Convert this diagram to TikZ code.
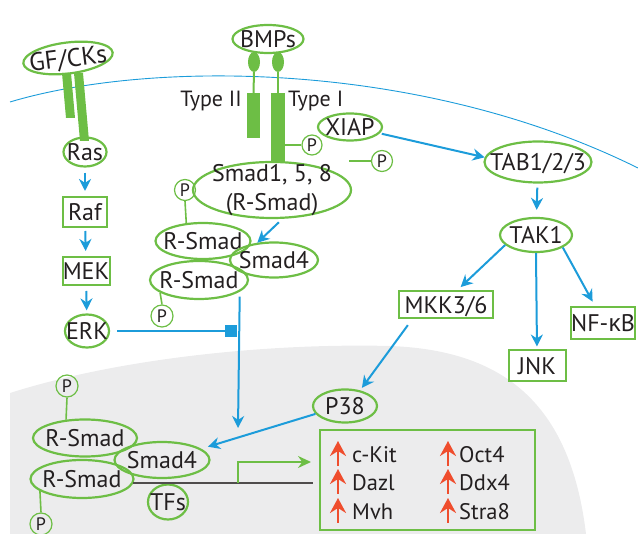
\documentclass[tikz,border=0pt]{standalone}
\usepackage{fontspec}
\setmainfont{PT Sans}
\newfontfamily\greekfont{Open Sans}
\usetikzlibrary{shapes.geometric,arrows.meta}
\definecolor{leaf}{RGB}{109,190,69}
\definecolor{sky}{RGB}{28,156,218}
\definecolor{nucleus}{RGB}{236,236,237}
\definecolor{upred}{RGB}{239,77,45}
\definecolor{ink}{RGB}{35,31,32}
\tikzset{
  molshape/.style={ellipse, draw=leaf, line width=2.2pt, inner sep=-40pt, text=ink,
    font=\fontsize{24}{28}\selectfont},
  mol/.style={molshape, text height=17pt, text depth=0pt},
  kinase/.style={rectangle, draw=leaf, line width=2pt, inner sep=0pt, text=ink,
    font=\fontsize{24}{28}\selectfont, text height=17pt, text depth=0pt},
  phos/.style={circle, draw=leaf, line width=1.2pt, inner sep=0pt, text=ink,
    font=\fontsize{18}{18}\selectfont, text height=12.5pt, text depth=0pt},
  plink/.style={leaf, line width=1.6pt},
  signal/.style={sky, line width=2pt, -{Stealth[length=12pt,width=12pt]}},
  receptor/.style={rectangle, fill=leaf, inner sep=0pt},
  typelabel/.style={inner sep=0pt, text=ink, font=\fontsize{22}{26}\selectfont},
  gene/.style={anchor=west, inner sep=0pt, text=ink, font=\fontsize{22.5}{26}\selectfont,
    text height=16pt, text depth=0pt},
  upreg/.style={upred, line width=2.2pt, -{Stealth[length=15pt,width=16pt,inset=5pt]}},
}
\begin{document}
\begin{tikzpicture}[x=1pt,y=-1pt]
\useasboundingbox (0,0) rectangle (638,534);

% nucleus
\fill[nucleus] (10,534) -- (10,393) .. controls (120,358) and (270,343) .. (390,346)
  .. controls (500,350) and (570,400) .. (586,534) -- cycle;

% plasma membrane
\draw[sky, line width=0.9pt] (10,102) .. controls (150,60) and (420,60) .. (638,168);

% growth factor / cytokine receptor
\node[mol, minimum width=90, minimum height=31, rotate=7, font=\fontsize{25.5}{28}\selectfont,
  text height=18pt] (gfck) at (68,58) {GF/CKs};
\fill[leaf] (62,73) -- (71,73) -- (75,118) -- (66,118) -- cycle;
\fill[leaf] (74,73) -- (83,73) -- (89,141) -- (80,141) -- cycle;

% ERK cascade
\node[mol, minimum width=43, minimum height=29] (ras) at (85,152) {Ras};
\node[kinase, minimum width=44, minimum height=30] (raf) at (85,212) {Raf};
\node[kinase, minimum width=47, minimum height=28] (mek) at (86,271) {MEK};
\node[mol, minimum width=44, minimum height=33] (erk) at (87,331) {ERK};
\draw[signal, shorten <=5pt, shorten >=5pt] (ras) -- (raf);
\draw[signal, shorten <=3pt, shorten >=5pt] (raf) -- (mek);
\draw[signal, shorten <=5pt, shorten >=3pt] (mek) -- (erk);

% BMP receptors
\node[mol, minimum width=71, minimum height=28] (bmp) at (268,39) {BMPs};
\node[ellipse, fill=leaf, inner sep=0pt, minimum width=12, minimum height=20] (lig1) at (254,62) {};
\node[ellipse, fill=leaf, inner sep=0pt, minimum width=12, minimum height=20] (lig2) at (278,62) {};
\node[receptor, minimum width=13, minimum height=45] (typeII) at (253.5,115.5) {};
\node[receptor, minimum width=14, minimum height=70] (typeI) at (278,128) {};
\draw[leaf, line width=2pt] (lig1.south) -- (typeII.north);
\draw[leaf, line width=2pt] (lig2.south) -- (typeI.north);
\node[typelabel, anchor=east] (lblII) at (242,101) {Type II};
\node[typelabel, anchor=west] (lblI) at (288,101) {Type I};
\node[phos, minimum size=20] (pI) at (312,145) {P};
\draw[plink] (pI.west) -- (pI.west -| typeI.east);

% R-Smad activation in the cytoplasm
\node[molshape, minimum width=158, minimum height=56, align=center,
  font=\fontsize{24}{29}\selectfont] (smad158) at (272,190) {Smad1, 5, 8\\(R-Smad)};
\node[phos, minimum size=21] (pfree) at (382,161) {P};
\draw[plink] (pfree.west) -- ([xshift=-22pt]pfree.west);
\node[phos, minimum size=21] (pc1) at (185,190) {P};
\node[mol, minimum width=95, minimum height=36] (rsc1) at (203,241) {R-Smad};
\node[mol, minimum width=88, minimum height=35] (smad4c) at (274,260) {Smad4};
\node[mol, minimum width=98, minimum height=38] (rsc2) at (199,280) {R-Smad};
\node[phos, minimum size=22] (pc4) at (162,316) {P};
\draw[plink] (pc1.south) -- (rsc1.133);
\draw[plink] (pc4.north) -- (rsc2.198);
\draw[signal, shorten <=5pt] (smad158.290) -- (smad4c.134);

% XIAP / TAK1 branch
\node[mol, minimum width=64, minimum height=27] (xiap) at (350,127) {XIAP};
\node[mol, minimum width=107, minimum height=41] (tab) at (538,162) {TAB1/2/3};
\node[mol, minimum width=72, minimum height=34] (tak1) at (536,235) {TAK1};
\node[kinase, minimum width=94, minimum height=27] (mkk) at (446,305) {MKK3/6};
\node[kinase, minimum width=57, minimum height=31] (jnk) at (537,366) {JNK};
\node[kinase, minimum width=64, minimum height=32] (nfkb) at (603,323) {NF-{\greekfont κ}B};
\node[mol, minimum width=64, minimum height=33] (p38) at (345,406) {P38};
\draw[signal, shorten <=2pt] (xiap.-12) -- (tab.175);
\draw[signal, shorten <=4pt, shorten >=7pt] (tab) -- (tak1);
\draw[signal, shorten >=5pt] (tak1.198) -- ([xshift=11pt]mkk.north);
\draw[signal, shorten >=3pt] (tak1.south) -- (jnk.north);
\draw[signal, shorten >=5pt] (tak1.-25) -- ([xshift=-8pt]nfkb.north);
\draw[signal, shorten <=7pt, shorten >=3pt] ([xshift=-34pt]mkk.south) -- (p38.46);

% Smad complex entering the nucleus, blocked by ERK
\coordinate (nucin) at (238,428);
\coordinate (block) at (237,331);
\draw[signal, shorten <=5pt] (rsc2.-16) -- (nucin);
\draw[sky, line width=2pt, -{Square[length=12pt,width=12pt]}, shorten <=7pt] (erk.east) -- (block);

% nuclear Smad complex on the target genes
\node[phos, minimum size=22] (pn1) at (67,386) {P};
\node[mol, minimum width=104, minimum height=37] (rsn1) at (85,438) {R-Smad};
\node[mol, minimum width=95, minimum height=36] (smad4n) at (162,460) {Smad4};
\node[mol, minimum width=103, minimum height=38] (rsn2) at (82,479) {R-Smad};
\node[phos, minimum size=22] (pn2) at (41,524) {P};
\node[mol, minimum width=40, minimum height=35] (tfs) at (168,502) {TFs};
\draw[plink] (pn1.south) -- (rsn1.136);
\draw[plink] (rsn2.196) -- (pn2.north);
\draw[signal, shorten >=7pt] (p38.195) -- (smad4n.16);

% gene with transcription start
\node[rectangle, draw=leaf, line width=2pt, minimum width=215, minimum height=100] (genes) at (427.5,480) {};
\coordinate (dnastart) at (133,483);
\coordinate (tss) at (238,483);
\coordinate (dnaend) at (313,483);
\coordinate (tssto) at (311,462);
\draw[ink!80, line width=1.2pt] (dnastart) -- (dnaend);
\draw[leaf, line width=2pt, -{Stealth[length=13pt,width=12pt]}] (tss) |- (tssto);

% up-regulated genes
\foreach \name/\txt/\xa/\xt/\y in {kit/c-Kit/338/352/455, dazl/Dazl/338/352/483, mvh/Mvh/338/352/512,
    oct/Oct4/448/459/455, ddx/Ddx4/448/459/483, stra/Stra8/448/459/512}{
  \node[gene] (g\name) at (\xt,\y) {\txt};
  \draw[upreg] (\xa,\y+11) -- (\xa,\y-14);
}
\end{tikzpicture}
\end{document}
